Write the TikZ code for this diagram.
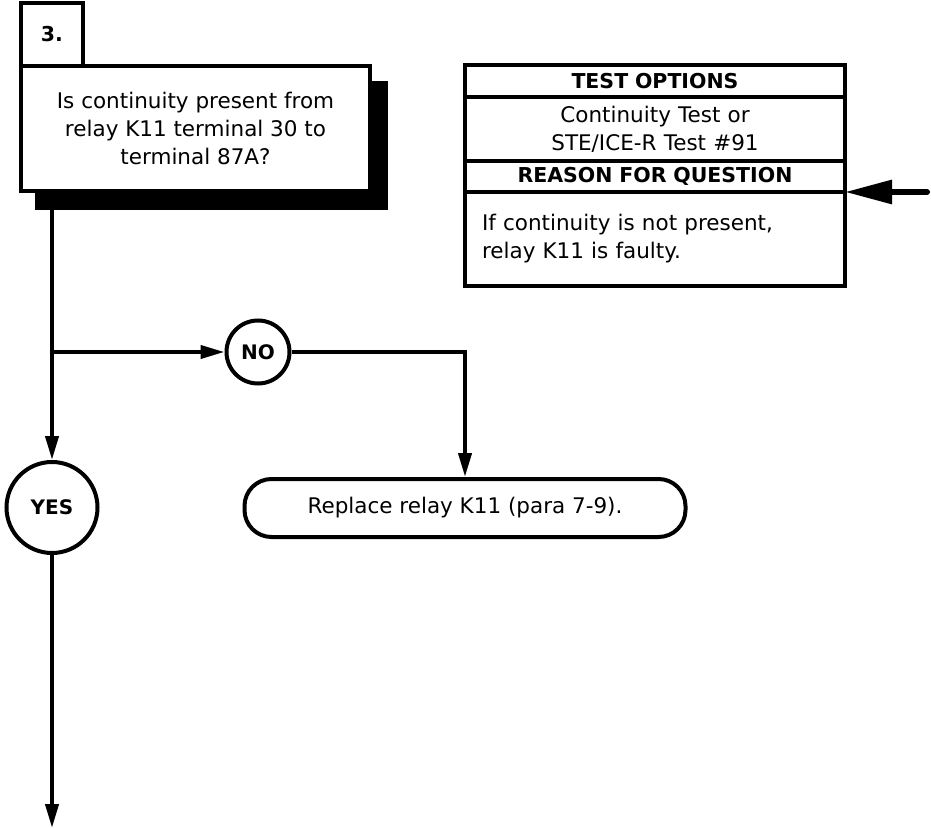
\documentclass[tikz,border=0pt]{standalone}
\usepackage{fontspec}
\setmainfont{DejaVu Sans}
\usepackage{tikz}
\usetikzlibrary{positioning, arrows.meta, shadows}
\tikzset{
    qbox/.style={draw, line width=4pt, fill=white, outer sep=0pt, minimum width=349pt, minimum height=125pt, align=center, inner sep=0pt,
        drop shadow={shadow xshift=16pt, shadow yshift=-17pt, draw=black, fill=black, line width=4pt, opacity=1}},
    numbox/.style={draw, line width=4pt, fill=white, outer sep=0pt, minimum width=62pt, minimum height=63pt, font=\bfseries\fontsize{20.5}{24}\selectfont},
    headbox/.style={draw, line width=4pt, outer sep=0pt, minimum width=380pt, text width=346pt, inner xsep=17pt, inner ysep=0pt, align=center, font=\bfseries\fontsize{20.5}{24}\selectfont},
    infobox/.style={draw, line width=4pt, outer sep=0pt, minimum width=380pt, text width=346pt, inner xsep=17pt, inner ysep=0pt},
    ansdot/.style={draw, circle, line width=4pt, fill=white, inner sep=0pt, font=\bfseries\fontsize{20}{24}\selectfont},
    fixbox/.style={draw, line width=4pt, rounded corners=27pt, minimum width=441pt, minimum height=58pt},
}

\begin{document}
\begin{tikzpicture}[
    x=1pt, y=-1pt, line width=4pt,
    >={Triangle[length=24pt, width=13pt]},
    every node/.style={font=\fontsize{21.5}{28}\selectfont},
]
\useasboundingbox (0,0) rectangle (931,829);
\node[qbox] (q3) at (195.5,128.5) {Is continuity present from\\relay K11 terminal 30 to\\terminal 87A?};
\node[numbox, above right=0pt and 0pt of q3.north west] (num) {3.};

\node[headbox, minimum height=32pt] (topt) at (655,81) {TEST OPTIONS};
\node[infobox, minimum height=64pt, align=center, below=0pt of topt] (tbody) {Continuity Test or\\STE/ICE-R Test \#91};
\node[headbox, minimum height=31pt, below=0pt of tbody] (rhead) {REASON FOR QUESTION};
\node[infobox, minimum height=94pt, align=left, below=0pt of rhead] (rbody) {If continuity is not present,\\relay K11 is faulty.};

\node[ansdot, minimum size=63pt] (no) at (258,352) {NO};
\node[ansdot, minimum size=91pt] (yes) at (52,507.5) {YES};
\node[fixbox] (fix) at (465,508) {Replace relay K11 (para 7-9).};
\coordinate (split) at (yes |- no);
\coordinate (down) at (52,828);
\coordinate (feed) at (927,192);

\draw[->] (yes |- q3.south) -- (yes);
\draw[->] (split) -- (no);
\draw[->] (no) -| (fix);
\draw[->] (yes) -- (down);
\draw[-{Triangle[length=47pt, width=23pt]}, line width=6pt, line cap=round] (feed) -- (rhead.south east);
\end{tikzpicture}
\end{document}
